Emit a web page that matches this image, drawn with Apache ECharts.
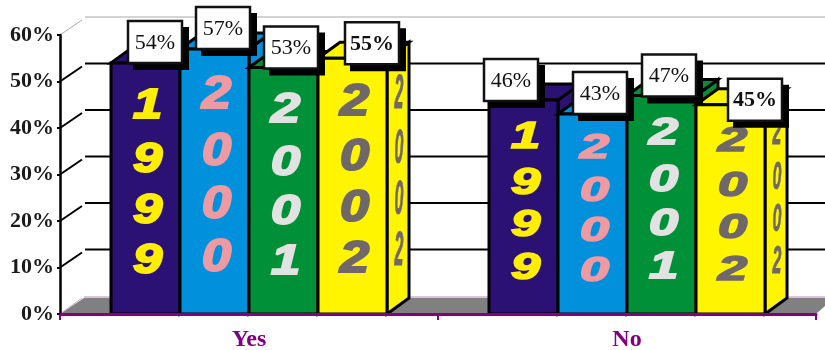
<!DOCTYPE html>
<html>
<head>
<meta charset="utf-8">
<style>html,body{margin:0;padding:0;background:#fff}#c{width:825px;height:350px}</style>
<script src="https://cdn.jsdelivr.net/npm/echarts@6/dist/echarts.min.js"></script>
</head>
<body>
<div id="c"></div>
<script>
const categories = ['Yes', 'No'];
const years = ['1999', '2000', '2001', '2002'];
const values1999 = [54, 46];
const values2000 = [57, 43];
const values2001 = [53, 47];
const values2002 = [55, 45];
const yTicks = [0, 10, 20, 30, 40, 50, 60];

const seriesValues = [values1999, values2000, values2001, values2002];
const faceColors = ['#2b1173', '#0090dc', '#009038', '#fff500'];
const digitColors = ['#ffee00', '#ee9aa2', '#e2e2e2', '#706868'];
const BAR_W = 69, DX = 22, DY = 16, WALL_DY = 18;
const digitFractions = [0.17, 0.385, 0.585, 0.785];
// box placement relative to the bar's top-left corner, by category then year
const labelPlace = [
  [[17, -42], [16, -42], [15, -41], [27, -36]],
  [[-5, -41], [15, -42], [15, -41], [32, -26]]
];
const heavyLabel = [false, false, false, true];

function barLeft(cx, i) { return cx - 2 * BAR_W + i * BAR_W; }

function renderBar(i) {
  return function (params, api) {
    const p = api.coord([api.value(0), api.value(1)]);
    const base = api.coord([api.value(0), 0]);
    const l = barLeft(p[0], i), r = l + BAR_W, t = p[1], b = base[1];
    const h = b - t;
    const stroke = { stroke: '#000', lineWidth: 3, lineJoin: 'miter' };
    const fill = faceColors[i];
    const children = [
      { type: 'polygon', shape: { points: [[r, b], [r + DX, b - DY], [r + DX, t - DY], [r, t]] }, style: Object.assign({ fill }, stroke) },
      { type: 'polygon', shape: { points: [[l, t], [l + DX, t - DY], [r + DX, t - DY], [r, t]] }, style: Object.assign({ fill }, stroke) },
      { type: 'rect', shape: { x: l, y: t, width: BAR_W, height: h }, style: Object.assign({ fill }, stroke) }
    ];
    const sy = h / 250 * 1.02;
    years[i].split('').forEach(function (d, k) {
      const cy = t + h * digitFractions[k] + 1;
      children.push({
        type: 'text', x: l + BAR_W / 2 + 2, y: cy, scaleX: 1.25, scaleY: sy,
        style: { text: d, fill: digitColors[i], stroke: digitColors[i], lineWidth: 2, font: 'italic bold 42px "Liberation Sans"', align: 'center', verticalAlign: 'middle' }
      });
      if (i === 3) {
        children.push({
          type: 'text', x: r + DX / 2 + 1, y: cy - DY / 2, scaleX: 0.38, scaleY: sy * 1.1,
          style: { text: d, fill: digitColors[i], stroke: digitColors[i], lineWidth: 1, font: 'italic bold 42px "Liberation Sans"', align: 'center', verticalAlign: 'middle' }
        });
      }
    });
    return { type: 'group', children };
  };
}

function renderLabel(i) {
  return function (params, api) {
    const c = api.value(0);
    const p = api.coord([c, api.value(1)]);
    const place = labelPlace[c][i];
    const x = barLeft(p[0], i) + place[0], y = p[1] + place[1];
    return { type: 'group', children: [
      { type: 'rect', shape: { x: x + 5, y: y + 6, width: 56, height: 43 }, style: { fill: '#000' } },
      { type: 'rect', shape: { x, y, width: 54, height: 42 }, style: { fill: '#fff', stroke: '#111', lineWidth: 2.5 } },
      { type: 'text', x: x + 27, y: y + 22, style: { text: api.value(1) + '%', fill: '#111', align: 'center', verticalAlign: 'middle',
        font: (heavyLabel[i] ? 'bold ' : '') + '22px "Liberation Serif"' } }
    ] };
  };
}

function renderWall(params, api) {
  const v = api.value(0);
  const p = api.coord([0, v]);
  const x0 = params.coordSys.x, y = p[1];
  if (v === 0) {
    return { type: 'group', children: [
      { type: 'polygon', shape: { points: [[x0, y], [x0 + 24, y - 16], [825, y - 16], [825, y - 8], [x0 + 756, y]] }, style: { fill: '#808080' } },
      { type: 'line', shape: { x1: x0 + 24, y1: y - 17, x2: 825, y2: y - 17 }, style: { stroke: '#b58ab5', lineWidth: 1 } },
      { type: 'line', shape: { x1: x0, y1: y, x2: x0 + 22, y2: y - 16 }, style: { stroke: '#c9a8c9', lineWidth: 1 } }
    ] };
  }
  const top = v === yTicks[yTicks.length - 1];
  const st = top ? { stroke: '#a8a8a8', lineWidth: 1 } : { stroke: '#000', lineWidth: 2 };
  return { type: 'group', children: [
    { type: 'line', shape: { x1: x0, y1: y, x2: x0 + 22, y2: y - 15 }, style: st },
    { type: 'line', shape: { x1: x0 + 25, y1: y - WALL_DY, x2: 825, y2: y - WALL_DY }, style: st }
  ] };
}

const series = [{
  type: 'custom', name: 'wall', z: 1, silent: true, clip: false,
  data: yTicks.map(v => [v]), encode: { y: 0 }, renderItem: renderWall
}];
years.forEach(function (yr, i) {
  const data = seriesValues[i].map((v, c) => [c, v]);
  series.push({ type: 'custom', name: yr, z: 2, silent: true, clip: false, data, encode: { x: 0, y: 1 }, renderItem: renderBar(i) });
});
years.forEach(function (yr, i) {
  const data = seriesValues[i].map((v, c) => [c, v]);
  series.push({ type: 'custom', name: yr + ' label', z: 8, silent: true, clip: false, data, encode: { x: 0, y: 1 }, renderItem: renderLabel(i) });
});

const chart = echarts.init(document.getElementById('c'), null, { renderer: 'canvas' });
chart.setOption({
  animation: false,
  backgroundColor: '#fff',
  tooltip: { show: false },
  grid: { left: 60, top: 35, width: 756, height: 279, outerBoundsMode: 'none' },
  xAxis: {
    type: 'category', data: categories, z: 5,
    axisLine: { lineStyle: { color: '#800080', width: 3 } },
    axisTick: { show: true, length: 6, lineStyle: { color: '#800080', width: 2 } },
    axisLabel: { color: '#800080', fontFamily: 'Liberation Serif', fontWeight: 'bold', fontSize: 24, margin: 14 }
  },
  yAxis: {
    type: 'value', min: 0, max: 60, interval: 10, z: 5,
    splitLine: { show: false },
    axisLine: { show: true, lineStyle: { color: '#000', width: 2.5 } },
    axisTick: { show: true, length: 3, lineStyle: { color: '#000', width: 2 } },
    axisLabel: { color: '#1a1a1a', fontFamily: 'Liberation Serif', fontWeight: 'bold', fontSize: 22, margin: 6, formatter: '{value}%' }
  },
  series
});
</script>
</body>
</html>
